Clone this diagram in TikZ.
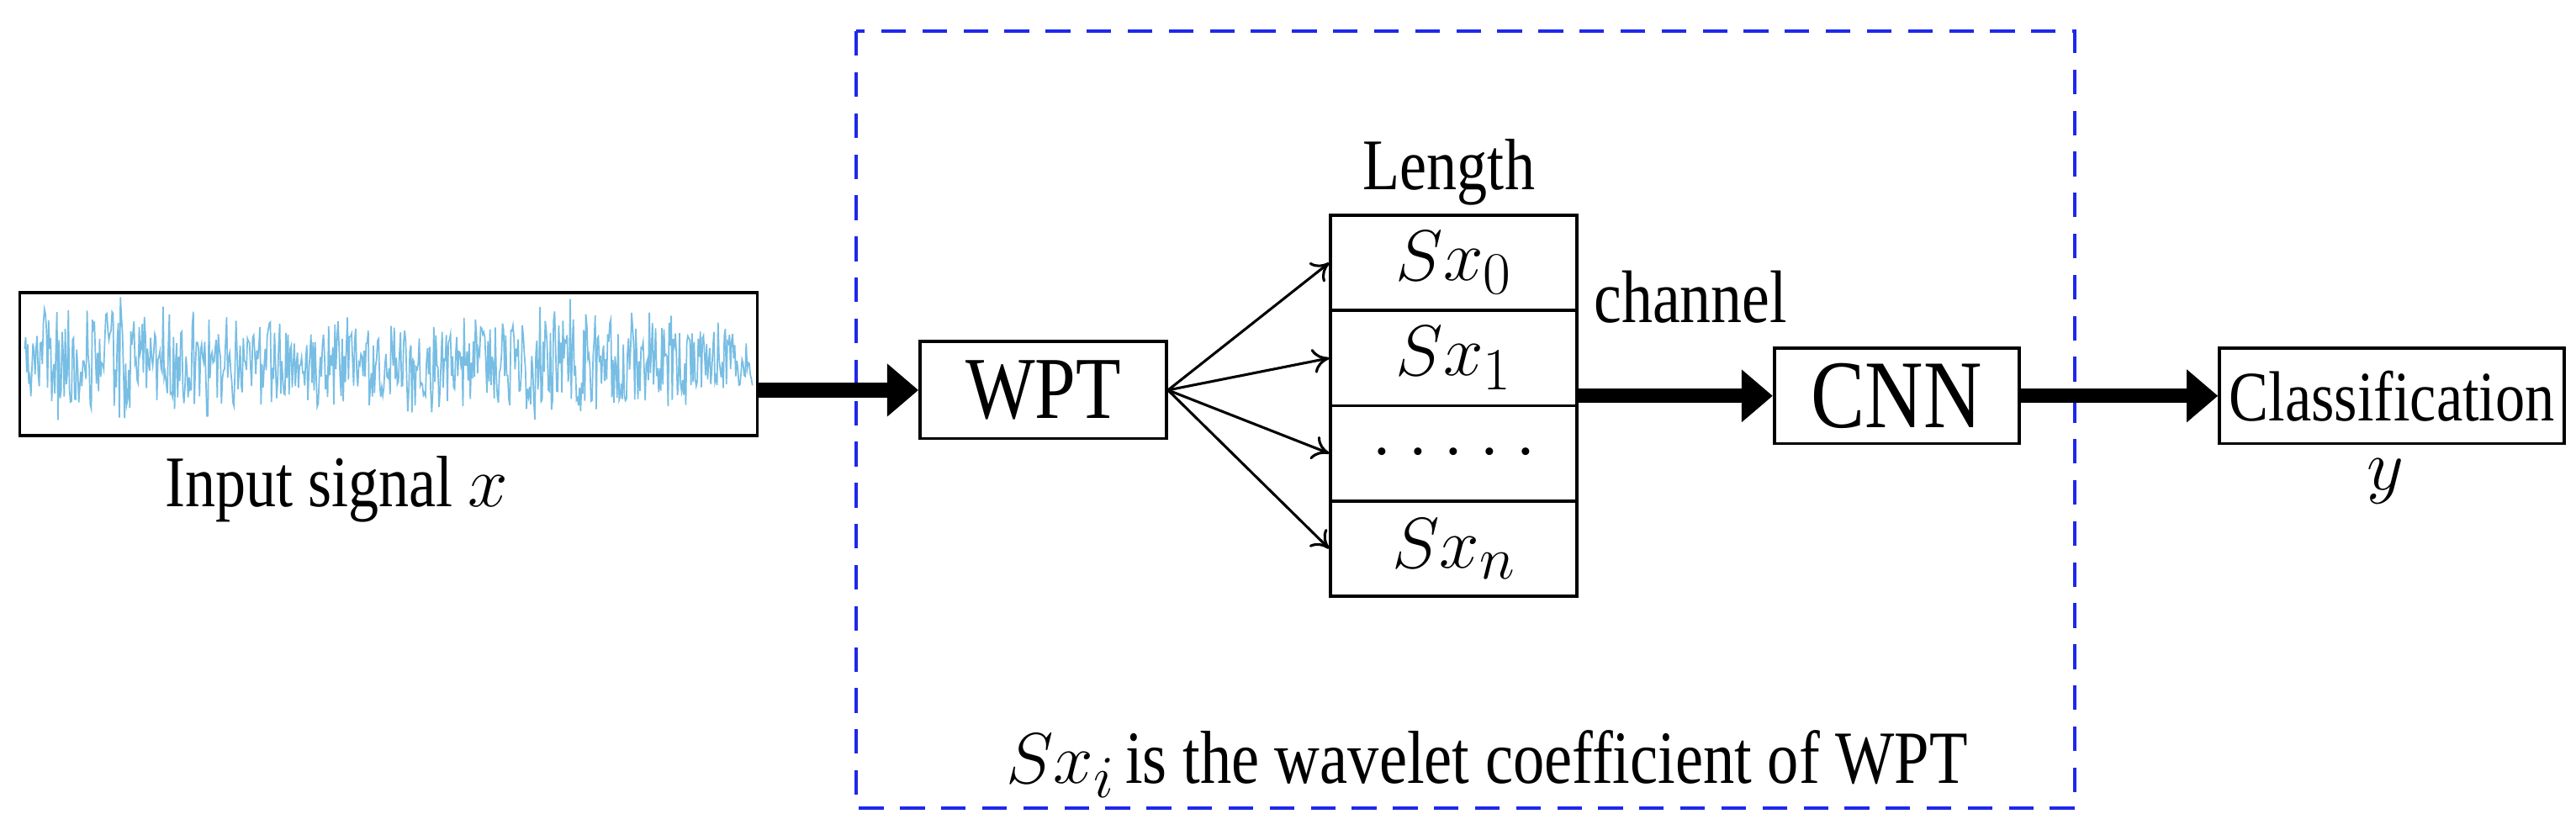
\documentclass[tikz,border=0pt]{standalone}
\usepackage{fontspec}
\usepackage{graphicx}
\setmainfont{Liberation Serif}
\usetikzlibrary{arrows.meta}
\definecolor{sig}{RGB}{120,190,228}
\definecolor{dblue}{RGB}{30,40,235}
\newcommand{\tallt}[1]{\scalebox{1}[1.2]{#1}}
\begin{document}
\begin{tikzpicture}[x=0.02cm,y=-0.02cm,
  box/.style={draw=black,line width=1.1pt,inner sep=0pt},
  big/.style={line width=5pt,-{Triangle[length=0.38cm,width=0.62cm]}},
  thin/.style={line width=0.9pt,-{To[length=0.2cm,width=0.3cm]}},
  lbl/.style={inner sep=0pt}]
\useasboundingbox (0,0) rectangle (1568,508);
% dashed frame
\draw[dblue,line width=1.3pt,dash pattern=on 0.3cm off 0.2cm] (521,19) rectangle (1263,492);
% signal
\pgfmathsetseed{11}
\draw[sig,line width=0.5pt] plot[samples=700,domain=15:458] (\x,{221+(17+4*sin(\x*1.3)+3*sin(\x*0.45))*(2*rnd-1)*(1+0.8*rnd)});
\node[box,minimum width=8.98cm,minimum height=1.74cm] (s) at (236.5,221.5) {};
\node[lbl,font=\fontsize{21}{21}\selectfont] (sl) at (205,298) {\tallt{Input signal} \fontsize{28}{28}\selectfont$x$};
% WPT
\node[box,minimum width=3cm,minimum height=1.18cm,font=\fontsize{25.5}{26}\selectfont] (w) at (635,237.5) {\tallt{WPT}};
% stack
\begin{scope}[every node/.style={box,minimum width=3cm,minimum height=1.16cm,font=\fontsize{29}{29}\selectfont}]
\node (r0) at (885,160) {$Sx_0$};
\node (r1) at (885,218) {$Sx_1$};
\node (r2) at (885,276) {$\cdot\cdot\cdot\cdot\cdot$};
\node (r3) at (885,334) {$Sx_n$};
\end{scope}
\node[lbl,font=\fontsize{21}{21}\selectfont] (len) at (882,105) {\tallt{Length}};
\node[lbl,font=\fontsize{21.5}{22}\selectfont] (ch) at (1029,181) {\tallt{channel}};
% CNN & classification
\node[box,minimum width=2.98cm,minimum height=1.16cm,font=\fontsize{28}{28}\selectfont] (c) at (1154.5,241) {\tallt{CNN}};
\node[box,minimum width=4.2cm,minimum height=1.16cm,font=\fontsize{20.5}{21}\selectfont] (k) at (1456,241) {\tallt{Classification}};
\node[lbl,font=\fontsize{30}{30}\selectfont] (y) at (1452,293) {$y$};
% caption
\node[lbl,anchor=west,font=\fontsize{21.7}{22}\selectfont] (cap) at (612,465) {\fontsize{30}{30}\selectfont$Sx_i$\fontsize{21.7}{22}\selectfont\,\tallt{is the wavelet coefficient of WPT}};
% arrows
\draw[big] (s.east |- w.west) -- (w.west);
\draw[big] (r1.east |- c.west) -- (c.west);
\draw[big] (c.east) -- (k.west);
\foreach \r in {r0,r1,r2,r3} \draw[thin] (w.east) -- (\r.west);
\end{tikzpicture}
\end{document}
